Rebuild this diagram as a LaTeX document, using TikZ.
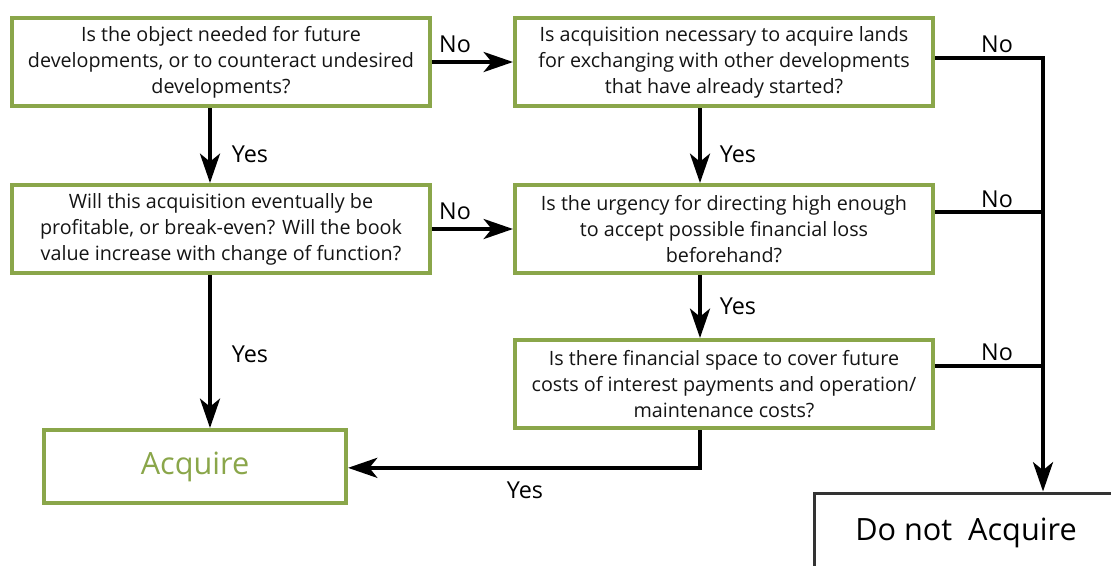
\documentclass[tikz,border=0pt]{standalone}
\usepackage{fontspec}
\setmainfont{Open Sans}
\usetikzlibrary{arrows.meta}
\definecolor{boxgreen}{HTML}{8AA64A}
\definecolor{textgray}{HTML}{141414}
\definecolor{edgegray}{HTML}{333333}
\begin{document}
\begin{tikzpicture}[x=0.75pt,y=-0.75pt,
  qbox/.style={draw=boxgreen,line width=3pt,minimum width=313.5pt,minimum height=66pt,
    align=center,font=\fontsize{14.8}{19.5}\selectfont,text=textgray,inner sep=0pt},
  endbox/.style={line width=3pt,inner sep=0pt},
  flow/.style={line width=3pt,-{Stealth[length=22pt,width=15pt,inset=6pt]}},
  plain/.style={line width=3pt},
  lbl/.style={font=\fontsize{17.5}{21}\selectfont,text=black,inner sep=0pt}]
\useasboundingbox (0,0) rectangle (1111,565);

% question boxes
\node[qbox] (b1) at (221,62) {Is the object needed for future\\developments, or to counteract undesired\\developments?};
\node[qbox] (b2) at (724,62) {Is acquisition necessary to acquire lands\\for exchanging with other developments\\that have already started?};
\node[qbox] (b3) at (221,229) {Will this acquisition eventually be\\profitable, or break-even? Will the book\\value increase with change of function?};
\node[qbox] (b4) at (724,229) {Is the urgency for directing high enough\\to accept possible financial loss\\beforehand?};
\node[qbox] (b5) at (724,384) {Is there financial space to cover future\\costs of interest payments and operation/\\maintenance costs?};

% outcomes
\node[endbox,draw=boxgreen,minimum width=226.5pt,minimum height=54.75pt,
  font=\fontsize{23}{26}\selectfont,text=boxgreen] (acq) at (195,466.5) {Acquire};
\node[endbox,draw=edgegray,line width=2.25pt,minimum width=228pt,minimum height=60pt,
  font=\fontsize{23}{27}\selectfont,text=black] (dna) at (966,533) {Do not\ \ Acquire};

% corner of the right-hand collector line
\coordinate (j2) at (1043,58);

% Yes branches
\draw[flow] ([xshift=-8.25pt]b1.south) -- ([xshift=-8.25pt]b3.north);
\draw[flow] ([xshift=-8.25pt]b3.south) -- ([xshift=-8.25pt]b3.south |- acq.north);
\draw[flow] ([xshift=-18pt]b2.south) -- ([xshift=-18pt]b4.north);
\draw[flow] ([xshift=-18pt]b4.south) -- ([xshift=-18pt]b5.north);
\draw[flow] ([xshift=-18pt]b5.south) |- ([yshift=-1pt]acq.east);

% No branches
\draw[flow] (b1.east) -- (b2.west);
\draw[flow] (b3.east) -- (b4.west);
\draw[flow] (b2.east |- j2) -- (j2) -- (j2 |- dna.north);
\draw[plain] ([yshift=13pt]b4.east) -- ([yshift=13pt]b4.east -| j2);
\draw[plain] ([yshift=13.5pt]b5.east) -- ([yshift=13.5pt]b5.east -| j2);

% branch labels
\node[lbl] (n1) at (455,44) {No};
\node[lbl] (n2) at (455,211) {No};
\node[lbl] (n3) at (997,44) {No};
\node[lbl] (n4) at (997,199) {No};
\node[lbl] (n5) at (997,352) {No};
\node[lbl] (y1) at (250,154) {Yes};
\node[lbl] (y2) at (738,154) {Yes};
\node[lbl] (y3) at (250,354) {Yes};
\node[lbl] (y4) at (738,306) {Yes};
\node[lbl] (y5) at (525,490) {Yes};
\end{tikzpicture}
\end{document}
